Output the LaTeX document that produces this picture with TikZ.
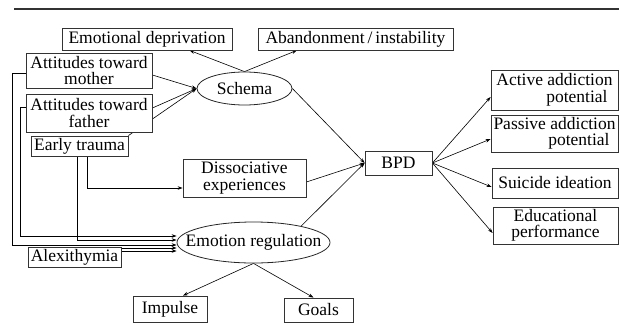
\documentclass[tikz,border=0pt]{standalone}
\usepackage{fontspec}
\setmainfont{Liberation Serif}
\usetikzlibrary{positioning,shapes.geometric,arrows.meta,backgrounds}

\tikzset{
  box/.style={draw=black!80, line width=0.8pt, fill=white, inner sep=1pt,
    font=\fontsize{17.5}{16.5}\selectfont},
  oval/.style={ellipse, draw=black!85, line width=0.8pt, fill=white, inner sep=0pt,
    font=\fontsize{17.5}{16}\selectfont},
  arr/.style={-{Stealth[length=5pt,width=3.5pt]}, line width=0.6pt}
}

\begin{document}
\begin{tikzpicture}[x=1pt,y=-1pt]
\useasboundingbox (0,0) rectangle (620,324);

% rule on top
\draw[line width=1.2pt, black!80] (14,9) -- (619,9);

% schema and its children
\node[box, minimum width=170pt, minimum height=22pt] (ed) at (147,39) {Emotional deprivation};
\node[box, minimum width=195pt, minimum height=22pt] (ab) at (355.5,39) {Abandonment\,/\,instability};
\node[oval, minimum width=95pt, minimum height=33pt] (schema) at (244.5,88.5) {Schema};

% left side
\node[box, align=center, minimum width=126pt, minimum height=35pt] (mother) at (89,70.5) {Attitudes toward\\mother};
\node[box, align=center, minimum width=126pt, minimum height=38pt] (father) at (89,113) {Attitudes toward\\father};
\node[box, minimum width=97pt, minimum height=20pt] (trauma) at (79.5,146) {Early trauma};
\node[box, minimum width=93pt, minimum height=20pt] (alex) at (74.5,257) {Alexithymia};

% middle
\node[box, align=center, minimum width=123pt, minimum height=38pt] (diss) at (244.5,178) {Dissociative\\experiences};
\node[oval, inner xsep=-14pt, minimum width=153pt, minimum height=41pt] (er) at (253.5,242.5) {Emotion regulation};
\node[box, minimum width=74pt, minimum height=26pt] (impulse) at (170,309) {Impulse};
\node[box, minimum width=69pt, minimum height=24pt] (goals) at (318.5,310) {Goals};
\node[box, minimum width=67pt, minimum height=24pt] (bpd) at (398.5,163) {BPD};

% outcomes
\node[box, align=right, minimum width=127pt, minimum height=40pt] (active) at (554.5,90) {Active addiction\\potential\hspace*{5pt}};
\node[box, align=right, minimum width=127pt, minimum height=37pt] (passive) at (554.5,133.5) {Passive addiction\\potential\hspace*{6pt}};
\node[box, minimum width=126pt, minimum height=30pt] (suicide) at (555,183) {Suicide ideation};
\node[box, align=center, minimum width=125pt, minimum height=37pt] (edu) at (555.5,225.5) {Educational\\performance};

% connectors
\begin{scope}[on background layer]
\draw[arr] (schema.north) -- (ed.-15);
\draw[arr] (schema.north) -- (ab.191);
\draw[arr] ([yshift=-4.5pt]mother.east) -- (schema.west);
\draw[arr] ([yshift=5pt]father.east) -- (schema.west);
\draw[arr] (trauma.north east) -- (schema.west);
\draw[arr] (schema.east) -- (bpd.west);
\draw[arr] ([yshift=-4pt]diss.east) -- (bpd.west);
\draw[arr] (er.19) -- (bpd.west);

\draw[arr] ([yshift=-3pt]mother.west) -- ++(-13,0) |- ([yshift=-2.5pt]er.west);
\draw[arr] ([yshift=6pt]father.west) -- ++(-5,0) |- ([yshift=6.5pt]er.west);
\draw[arr] ([xshift=-2.5pt]trauma.south) |- ([yshift=2.5pt]er.west);
\draw[arr] ([xshift=7.5pt]trauma.south) |- ([yshift=-10pt]diss.west);
\draw[arr] ([yshift=9pt]alex.east) -- ([yshift=-5.5pt]er.west);
\draw[arr] ([yshift=6pt]alex.east) -- ([yshift=-8.5pt]er.west);

\draw[arr] (er.south) -- ([xshift=13pt]impulse.north);
\draw[arr] (er.south) -- ([xshift=-5pt]goals.north);

\foreach \t/\s in {active/-7, passive/-5.5, suicide/-4, edu/-7.5}
  \draw[arr] (bpd.east) -- ([yshift=\s pt]\t.west);
\end{scope}

\end{tikzpicture}
\end{document}
